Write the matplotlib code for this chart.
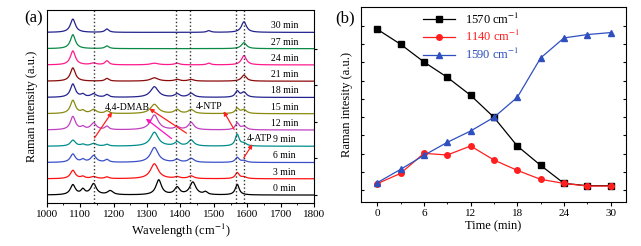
import matplotlib
matplotlib.use("Agg")
import matplotlib.pyplot as plt
import numpy as np

plt.rcParams['font.family'] = ['Liberation Serif', 'DejaVu Serif']
plt.rcParams['mathtext.fontset'] = 'stix'

# ---- panel (a): Raman spectra, described by peaks ----
times_a = [0, 3, 6, 9, 12, 15, 18, 21, 24, 27, 30]
spec_colors = ['black', '#ff1010', '#3a4fc8', '#008c8c', '#c040c0', '#8a8a10',
               '#23238f', '#8b0a0a', '#ff1a8c', '#0a8a46', '#23238f']
peak_pos = [1078, 1108, 1140, 1180, 1190, 1322, 1335, 1390, 1432, 1437, 1475, 1485, 1570, 1590]
peak_hw = [9, 7, 10, 7, 10, 14, 10, 9, 10, 11, 7, 7, 7, 9]
peak_h = [
    [30, 15, 33, 0, 12, 0, 45, 22, 0, 38, 8, 0, 32, 0],
    [25, 6, 6, 5, 0, 45, 0, 5, 8, 0, 0, 0, 18, 5],
    [25, 8, 20, 8, 0, 45, 0, 8, 12, 0, 0, 0, 15, 5],
    [18, 5, 8, 5, 0, 42, 0, 12, 18, 0, 0, 0, 35, 8],
    [40, 8, 20, 10, 0, 45, 0, 8, 22, 0, 0, 0, 20, 10],
    [40, 8, 12, 8, 0, 28, 0, 12, 12, 0, 0, 0, 15, 12],
    [40, 8, 10, 8, 0, 32, 0, 10, 12, 0, 0, 0, 18, 15],
    [40, 0, 0, 8, 0, 10, 0, 5, 5, 0, 0, 0, 0, 18],
    [42, 0, 5, 12, 0, 5, 0, 5, 0, 0, 0, 5, 0, 28],
    [42, 0, 0, 8, 0, 0, 0, 0, 0, 0, 0, 0, 0, 18],
    [40, 0, 0, 10, 0, 0, 0, 0, 0, 0, 0, 5, 0, 32],
]
marker_lines = [1140, 1388, 1430, 1567, 1590]
offset = 49

# ---- panel (b): band intensity vs time ----
t = [0, 3, 6, 9, 12, 15, 18, 21, 24, 27, 30]
i1570 = [517, 472, 419, 373, 319, 253, 167, 109, 55, 48, 48]
i1140 = [54, 85, 145, 140, 167, 125, 94, 67, 55, 47, 47]
i1590 = [57, 97, 139, 178, 212, 253, 313, 431, 491, 501, 507]

fig = plt.figure(figsize=(6.41, 2.46), dpi=100)
ax1 = fig.add_axes([0.073, 0.176, 0.417, 0.783])
ax2 = fig.add_axes([0.563, 0.180, 0.414, 0.792])

wn = np.linspace(1000, 1800, 1601)
for k, (tm, col) in enumerate(zip(times_a, spec_colors)):
    y = np.zeros_like(wn)
    for c, w, h in zip(peak_pos, peak_hw, peak_h[k]):
        y += h * w**2 / ((wn - c)**2 + w**2)
    base = k * offset
    ax1.plot(wn, y + base, color=col, lw=0.9)
    ax1.text(1712, base + 20, f'{tm} min', ha='center', va='center', fontsize=7)

for xv in marker_lines:
    ax1.axvline(xv, color='#333333', ls=':', lw=1.0)

arrow = dict(arrowstyle='-|>', color='#ff2020', lw=0.9, mutation_scale=6)
ax1.text(1240, 5.45 * offset, '4,4-DMAB', ha='center', va='center', fontsize=7)
ax1.annotate('', xy=(1200, 5.24 * offset), xytext=(1138, 3.37 * offset), arrowprops=arrow)
ax1.annotate('', xy=(1300, 5.41 * offset), xytext=(1425, 3.71 * offset), arrowprops=arrow)
ax1.annotate('', xy=(1290, 4.8 * offset), xytext=(1380, 3.37 * offset),
             arrowprops=dict(arrow, color='#ff10c0'))
ax1.text(1485, 5.45 * offset, '4-NTP', ha='center', va='center', fontsize=7)
ax1.annotate('', xy=(1525, 5.3 * offset), xytext=(1565, 3.88 * offset), arrowprops=arrow)
ax1.text(1636, 3.5 * offset, '4-ATP', ha='center', va='center', fontsize=7)
ax1.annotate('', xy=(1620, 3.27 * offset), xytext=(1585, 2.14 * offset), arrowprops=arrow)

ax1.set_xlim(1000, 1800)
ax1.set_ylim(-0.47 * offset, 11.37 * offset)
ax1.set_xticks(np.arange(1000, 1801, 100))
ax1.set_xticks(np.arange(1050, 1800, 100), minor=True)
ax1.set_yticks(np.arange(0, 11, 2.25) * offset)
ax1.tick_params(axis='y', left=False, right=True, labelleft=False, direction='out', length=2.5)
ax1.tick_params(axis='x', direction='out', length=3, labelsize=8, pad=2)
ax1.tick_params(axis='x', which='minor', direction='out', length=1.5)
ax1.set_xlabel('Wavelength (cm$^{-1}$)', fontsize=9, labelpad=2)
ax1.set_ylabel('Raman intensity (a.u.)', fontsize=9, labelpad=6)
fig.text(0.052, 0.925, '(a)', fontsize=12, ha='center', va='center')

ax2.plot(t, i1570, '-s', color='black', lw=0.9, markersize=4, label='1570 cm$^{-1}$')
ax2.plot(t, i1140, '-o', color='#ff1f1f', lw=0.9, markersize=4, label='1140 cm$^{-1}$')
ax2.plot(t, i1590, '-^', color='#2f4fbf', lw=0.9, markersize=4.5, label='1590 cm$^{-1}$')
ax2.set_xlim(-2.1, 32)
ax2.set_ylim(0, 584)
ax2.set_xticks(np.arange(0, 31, 6))
ax2.set_xticks(np.arange(3, 31, 6), minor=True)
ax2.set_yticks(35 + 54.7 * np.arange(10))
ax2.tick_params(axis='y', left=True, right=True, labelleft=False, direction='in', length=2.5)
ax2.tick_params(axis='x', direction='out', length=3, labelsize=8, pad=2)
ax2.tick_params(axis='x', which='minor', direction='out', length=1.5)
ax2.set_xlabel('Time (min)', fontsize=9, labelpad=2)
ax2.set_ylabel('Raman intesity (a.u.)', fontsize=9, labelpad=6)
leg = ax2.legend(loc='upper left', bbox_to_anchor=(0.2, 1.02), frameon=False, fontsize=9,
                 handlelength=2.6, labelspacing=0.2, borderaxespad=0.3)
for txt, line in zip(leg.get_texts(), leg.get_lines()):
    txt.set_color(line.get_color())
fig.text(0.538, 0.925, '(b)', fontsize=12, ha='center', va='center')

fig.savefig('out.png', dpi=100)
